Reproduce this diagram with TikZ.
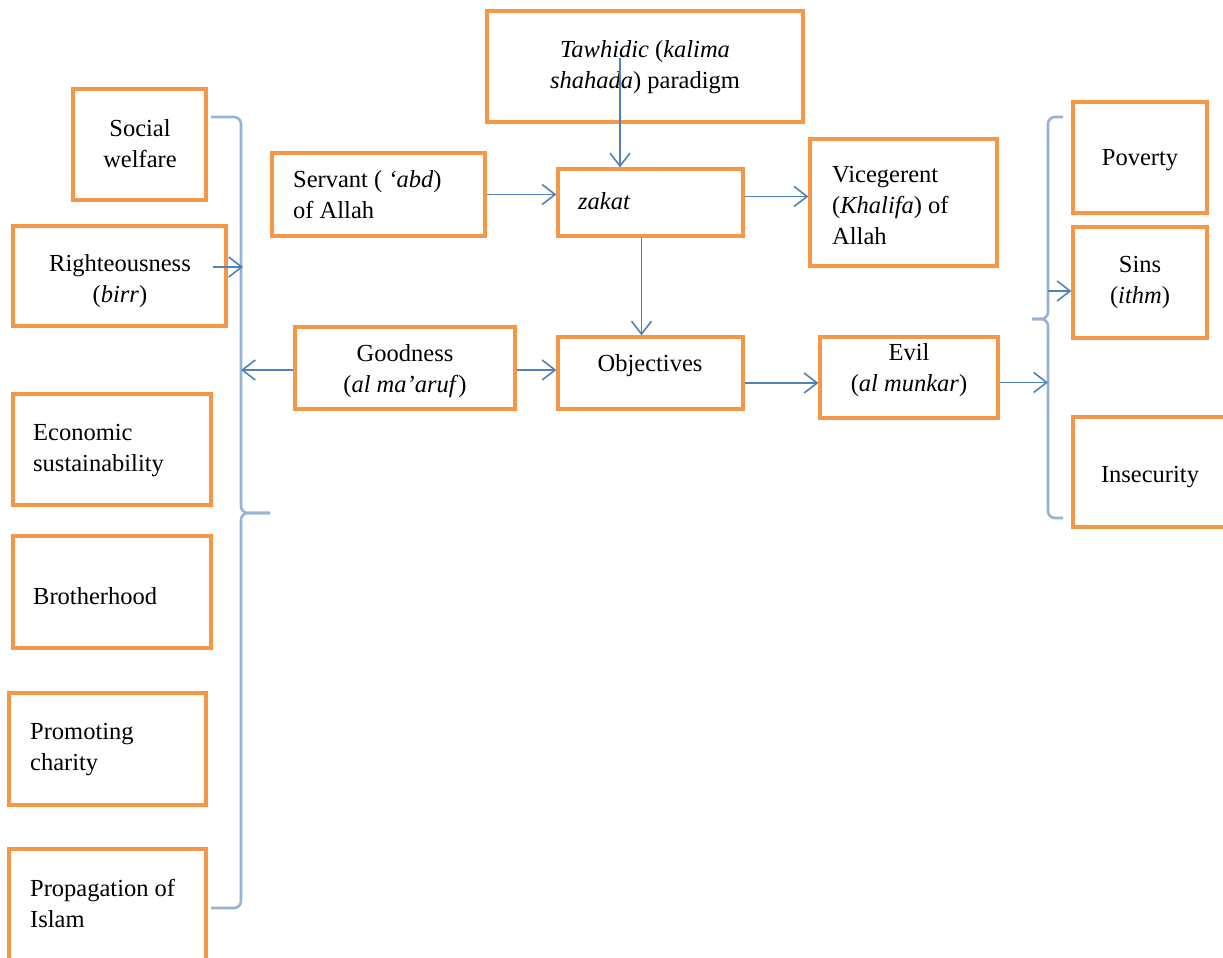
\documentclass[tikz,border=0pt]{standalone}
\usepackage{fontspec}
\setmainfont{Liberation Serif}
\usetikzlibrary{arrows.meta}
\definecolor{boxorange}{HTML}{F79646}
\definecolor{arrowblue}{HTML}{4F81BD}
\definecolor{braceblue}{HTML}{95B3D7}
\tikzset{
  obx/.style={draw=boxorange, line width=3.2pt, rectangle, inner sep=0pt, fill=white},
  txt/.style={inner sep=0pt, font=\fontsize{24.5}{31}\selectfont, text=black},
  arr/.style={draw=arrowblue, line width=1.7pt,
    -{Straight Barb[length=13pt,width=20pt,line width=1.6pt]}},
  bracepath/.style={draw=braceblue, line width=2.6pt, rounded corners=7pt}
}
% box from corner (x1,y1) to (x2,y2), in picture pixels
\newcommand\obox[5]{%
  \pgfmathsetmacro\oboxW{#4-#2}\pgfmathsetmacro\oboxH{#5-#3}%
  \pgfmathsetmacro\oboxX{(#2+#4)/2}\pgfmathsetmacro\oboxY{(#3+#5)/2}%
  \node[obx, minimum width=\oboxW pt, minimum height=\oboxH pt] (#1) at (\oboxX,\oboxY) {};}
\begin{document}
\begin{tikzpicture}[x=1pt,y=-1pt]
\useasboundingbox[fill=white] (0,0) rectangle (1223,958);

% boxes
\obox{tw}{487}{11}{803}{122}
\obox{soc}{73}{89}{206}{200}
\obox{rig}{13}{226}{226}{326}
\obox{eco}{13}{394}{211}{505}
\obox{bro}{13}{536}{211}{648}
\obox{pro}{9}{693}{206}{805}
\obox{prp}{9}{849}{206}{975}
\obox{srv}{272}{153}{485}{236}
\obox{zak}{558}{169}{743}{236}
\obox{vic}{810}{139}{997}{266}
\obox{gd}{295}{327}{515}{409}
\obox{obj}{558}{337}{743}{409}
\obox{evl}{820}{337}{998}{418}
\obox{pov}{1073}{102}{1207}{213}
\obox{sin}{1073}{227}{1207}{338}
\obox{ins}{1073}{417}{1235}{527}

% texts
\node[txt, align=center] (twt) at (645,67) {\textit{Tawhidic} (\textit{kalima}\\\textit{shahada}) paradigm};
\node[txt, align=center] (soct) at (140,144) {Social\\welfare};
\node[txt, align=center] (rigt) at (120,281) {Righteousness\\(\textit{birr})};
\node[txt, align=left, anchor=west] (ecot) at (33,451) {Economic\\sustainability};
\node[txt, align=left, anchor=west] (brot) at (33,596) {Brotherhood};
\node[txt, align=left, anchor=west] (prot) at (30,750) {Promoting\\charity};
\node[txt, align=left, anchor=west] (prpt) at (30,903) {Propagation of\\Islam};
\node[txt, align=left, anchor=west] (srvt) at (293,195) {Servant ( \textit{‘abd})\\of Allah};
\node[txt, anchor=west] (zakt) at (578,201) {\textit{zakat}};
\node[txt, align=left, anchor=west] (vict) at (832,206) {Vicegerent\\(\textit{Khalifa}) of\\Allah};
\node[txt, align=center] (gdt) at (405,371) {Goodness\\(\textit{al ma’aruf})};
\node[txt] (objt) at (650,366) {Objectives};
\node[txt, align=center] (evlt) at (909,370) {Evil\\(\textit{al munkar})};
\node[txt] (povt) at (1140,160) {Poverty};
\node[txt, align=center] (sint) at (1140,282) {Sins\\(\textit{ithm})};
\node[txt] (inst) at (1150,477) {Insecurity};

% braces
\coordinate (lbtip) at (270,513);
\coordinate (lbar) at (241,370);
\coordinate (rbtip) at (1032,319);
\coordinate (rbar) at (1048,383);
\draw[bracepath] (211,117) -| (241,513) -- (lbtip);
\draw[bracepath] (lbtip) -| (241,908) -- (211,908);
\draw[bracepath] (1063,117) -| (1048,319) -- (rbtip);
\draw[bracepath] (rbtip) -| (1048,518) -- (1063,518);

% connectors
\coordinate (twstart) at (620,58);
\coordinate (rigstart) at (213,267);
\coordinate (rigend) at (243,267);
\coordinate (sinstart) at (1048,291);
\draw[arr] (twstart) -- (twstart |- zak.north);
\draw[arr] (srv.east) -- (srv.east -| zak.west);
\draw[arr] ([yshift=6pt]zak.east) -- ([yshift=6pt]zak.east -| vic.west);
\draw[arr] ([xshift=-9pt]zak.south) -- ([xshift=-9pt]zak.south |- obj.north);
\draw[arr] ([yshift=-2pt]gd.east) -- ([yshift=-2pt]gd.east -| obj.west);
\draw[arr] ([yshift=-10pt]obj.east) -- ([yshift=-10pt]obj.east -| evl.west);
\draw[arr] ([yshift=-2pt]gd.west) -- ([yshift=-2pt]gd.west -| lbar);
\draw[arr] ([yshift=-5pt]evl.east) -- ([yshift=-5pt]evl.east -| rbar);
\draw[arr] (rigstart) -- (rigend);
\draw[arr] (sinstart) -- (sinstart -| sin.west);
\end{tikzpicture}
\end{document}
